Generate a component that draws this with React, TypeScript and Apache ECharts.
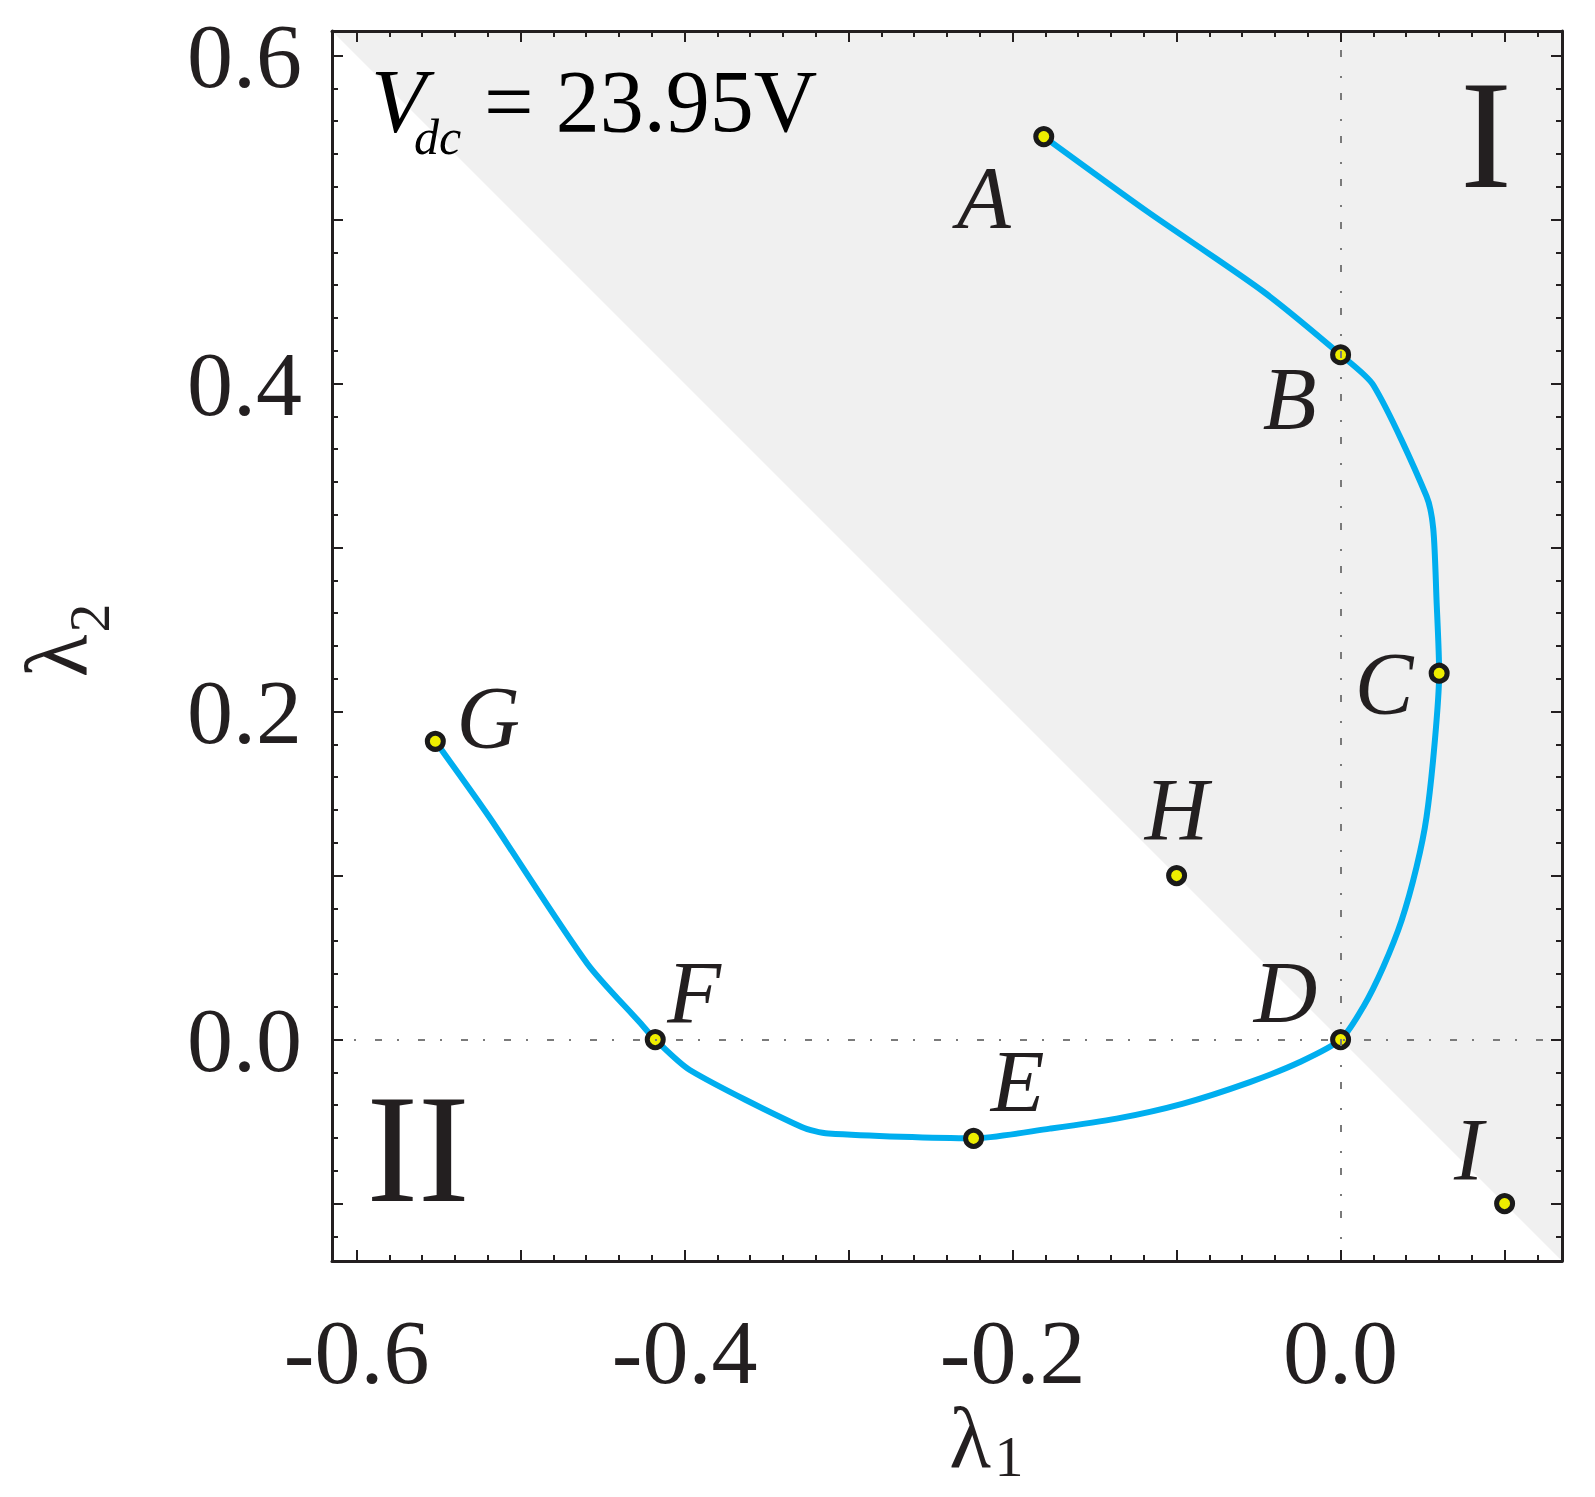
import React, { useEffect, useRef } from "react";
import * as echarts from "echarts";

// ---- data ----
const lambda1Curve = [
  -0.181, -0.118, -0.047, 0, 0.02, 0.0524, 0.0565, 0.0585, 0.0601, 0.0575, 0.0524,
  0.0463, 0.0372, 0.026, 0.0138, 0, -0.0248, -0.0553, -0.096, -0.1366, -0.1773,
  -0.2238, -0.3123, -0.3286, -0.3966, -0.4179, -0.4267, -0.4593, -0.5191, -0.552,
];
const lambda2Curve = [
  0.5506, 0.505, 0.456, 0.4176, 0.399, 0.3313, 0.3114, 0.268, 0.2234, 0.1825, 0.1357,
  0.1052, 0.0727, 0.0443, 0.0199, 0, -0.0137, -0.0259, -0.039, -0.0482, -0.0543,
  -0.0602, -0.0573, -0.0533, -0.0187, 0, 0.0098, 0.0463, 0.1357, 0.1819,
];
const pointNames = ["A", "B", "C", "D", "E", "F", "G", "H", "I"];
const pointLambda1 = [-0.181, 0, 0.0601, 0, -0.2238, -0.4179, -0.552, -0.1, 0.1];
const pointLambda2 = [0.5506, 0.4176, 0.2234, 0, -0.0602, 0, 0.1819, 0.1, -0.1];

// shaded region lambda1 + lambda2 >= 0 inside the plot window
const shadeLambda1 = [-0.615, 0.135, 0.135];
const shadeLambda2 = [0.615, 0.615, -0.135];

const xMin = -0.615;
const xMax = 0.135;
const yMin = -0.135;
const yMax = 0.615;

const xMajorTicks = [-0.6, -0.5, -0.4, -0.3, -0.2, -0.1, 0, 0.1];
const xMinorTicks = [
  -0.58, -0.56, -0.54, -0.52, -0.48, -0.46, -0.44, -0.42, -0.38, -0.36, -0.34, -0.32,
  -0.28, -0.26, -0.24, -0.22, -0.18, -0.16, -0.14, -0.12, -0.08, -0.06, -0.04, -0.02,
  0.02, 0.04, 0.06, 0.08, 0.12,
];
const xTickLabels = [-0.6, -0.4, -0.2, 0];
const yMajorTicks = [-0.1, 0, 0.1, 0.2, 0.3, 0.4, 0.5, 0.6];
const yMinorTicks = [
  -0.12, -0.08, -0.06, -0.04, -0.02, 0.02, 0.04, 0.06, 0.08, 0.12, 0.14, 0.16, 0.18,
  0.22, 0.24, 0.26, 0.28, 0.32, 0.34, 0.36, 0.38, 0.42, 0.44, 0.46, 0.48, 0.52, 0.54,
  0.56, 0.58,
];
const yTickLabels = [0, 0.2, 0.4, 0.6];

// ---- styles ----
const INK = "#231f20";
const SERIF = "'Liberation Serif', 'Times New Roman', serif";
const labelOffsets: Record<string, [number, number]> = {
  A: [-60, 61],
  B: [-51, 44],
  C: [-55, 10],
  D: [-55, -47],
  E: [44, -57],
  F: [39, -47],
  G: [53, -24],
  H: [0, -66],
  I: [-36, -54],
};

const fmt = (v: number) => {
  const s = v.toFixed(1);
  return s === "-0.0" ? "0.0" : s;
};

function makeAxis(
  kind: "x" | "y",
  position: string,
  ticks: number[],
  tickLen: number,
  labels: number[] | null,
  showLine: boolean
) {
  return {
    type: "value",
    position,
    offset: 0,
    z: 6,
    min: kind === "x" ? xMin : yMin,
    max: kind === "x" ? xMax : yMax,
    axisLine: { show: showLine, onZero: false, lineStyle: { color: INK, width: 3 } },
    axisTick: {
      show: true,
      inside: true,
      length: tickLen,
      customValues: ticks,
      lineStyle: { color: INK, width: 2 },
    },
    minorTick: { show: false },
    splitLine: { show: false },
    minorSplitLine: { show: false },
    axisLabel: labels
      ? {
          show: true,
          customValues: labels,
          formatter: fmt,
          fontSize: 92,
          lineHeight: kind === "x" ? 70 : 92,
          fontFamily: SERIF,
          color: INK,
          margin: kind === "x" ? 56 : 30,
        }
      : { show: false },
  };
}

export default function App() {
  const ref = useRef<HTMLDivElement>(null);
  useEffect(() => {
    document.body.style.margin = "0";
    const chart = echarts.init(ref.current!, null, { renderer: "svg" });
    const curve = lambda1Curve.map((x, i) => [x, lambda2Curve[i]]);
    const pts = pointNames.map((n, i) => ({
      name: n,
      value: [pointLambda1[i], pointLambda2[i]],
      label: { offset: labelOffsets[n] },
    }));
    const option: any = {
      animation: false,
      backgroundColor: "#ffffff",
      grid: { left: 332, top: 31, width: 1230, height: 1230, containLabel: false, outerBoundsMode: "none" },
      xAxis: [
        makeAxis("x", "bottom", xMajorTicks, 11, xTickLabels, true),
        makeAxis("x", "top", xMajorTicks, 11, null, true),
        makeAxis("x", "bottom", xMinorTicks, 6, null, false),
        makeAxis("x", "top", xMinorTicks, 6, null, false),
      ],
      yAxis: [
        makeAxis("y", "left", yMajorTicks, 11, yTickLabels, true),
        makeAxis("y", "right", yMajorTicks, 11, null, true),
        makeAxis("y", "left", yMinorTicks, 6, null, false),
        makeAxis("y", "right", yMinorTicks, 6, null, false),
      ],
      series: [
        {
          type: "custom",
          silent: true,
          z: 1,
          data: [[0, 0]],
          encode: { x: 0, y: 1 },
          renderItem: (_params: any, api: any) => ({
            type: "polygon",
            shape: { points: shadeLambda1.map((x, i) => api.coord([x, shadeLambda2[i]])) },
            style: { fill: "#f0f0f0" },
          }),
        },
        {
          type: "line",
          data: [],
          z: 2,
          markLine: {
            silent: true,
            symbol: "none",
            label: { show: false },
            lineStyle: { color: "#7a7a7a", width: 2, type: [7, 15, 2, 19] },
            data: [{ xAxis: 0 }, { yAxis: 0 }],
          },
        },
        {
          type: "line",
          data: curve,
          z: 3,
          showSymbol: false,
          smooth: 0.25,
          lineStyle: { color: "#00aeef", width: 6, cap: "round", join: "round" },
        },
        {
          type: "scatter",
          data: pts,
          z: 4,
          symbol: "circle",
          symbolSize: 16,
          itemStyle: { color: "#eeee00", borderColor: "#1a1a1a", borderWidth: 5, opacity: 1 },
          label: {
            show: true,
            position: "inside",
            formatter: "{b}",
            fontSize: 88,
            fontStyle: "italic",
            fontFamily: SERIF,
            color: INK,
          },
        },
      ],
      graphic: [
        { type: "text", x: 371, y: 101.7, z: 10, style: { text: "V", fontSize: 90, lineHeight: 62, fontStyle: "italic", fontFamily: SERIF, fill: "#000", align: "left", verticalAlign: "middle" } },
        { type: "text", x: 414, y: 137, z: 10, style: { text: "dc", fontSize: 50, lineHeight: 34, fontStyle: "italic", fontFamily: SERIF, fill: "#000", align: "left", verticalAlign: "middle" } },
        { type: "text", x: 484, y: 101, z: 10, style: { text: "= 23.95V", fontSize: 88, fontFamily: SERIF, fill: "#000", align: "left", verticalAlign: "middle" } },
        { type: "text", x: 1486, y: 135, z: 10, style: { text: "I", fontSize: 155, fontFamily: SERIF, fill: INK, align: "center", verticalAlign: "middle" } },
        { type: "text", x: 418, y: 1149, z: 10, style: { text: "II", fontSize: 155, fontFamily: SERIF, fill: INK, align: "center", verticalAlign: "middle" } },
        { type: "text", x: 970, y: 1438, z: 10, style: { text: "λ", fontSize: 86, lineHeight: 70, fontFamily: SERIF, fill: INK, align: "center", verticalAlign: "middle" } },
        { type: "text", x: 1009, y: 1456, z: 10, style: { text: "1", fontSize: 58, fontFamily: SERIF, fill: INK, align: "center", verticalAlign: "middle" } },
        { type: "text", x: 57, y: 656, rotation: Math.PI / 2, z: 10, style: { text: "λ", fontSize: 88, fontFamily: SERIF, fill: INK, align: "center", verticalAlign: "middle" } },
        { type: "text", x: 89, y: 618, rotation: Math.PI / 2, z: 10, style: { text: "2", fontSize: 58, fontFamily: SERIF, fill: INK, align: "center", verticalAlign: "middle" } },
      ],
    };
    chart.setOption(option);
    return () => chart.dispose();
  }, []);
  return <div ref={ref} style={{ width: 1595, height: 1497 }} />;
}
